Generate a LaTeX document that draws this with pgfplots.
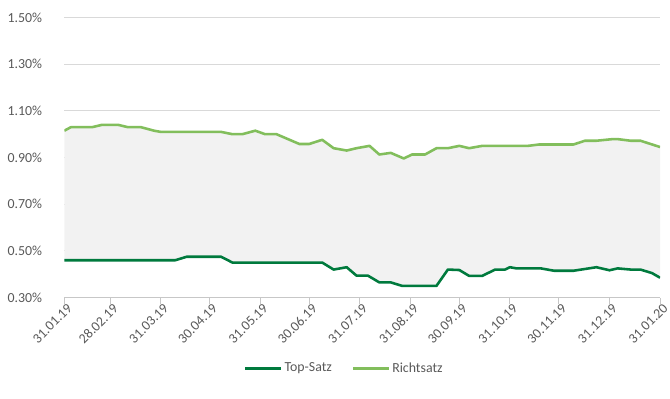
\documentclass[border=0pt]{standalone}
\usepackage{pgfplots}
\pgfplotsset{compat=1.18}
\usepgfplotslibrary{fillbetween}
\usepackage{fontspec}
\setmainfont{Carlito}
\definecolor{topgreen}{RGB}{0,122,61}
\definecolor{richtgreen}{RGB}{130,190,92}
\definecolor{fillgray}{RGB}{242,242,242}
\definecolor{gridgray}{RGB}{217,217,217}
\definecolor{txtgray}{RGB}{89,89,89}
\begin{document}
\begin{tikzpicture}
\path (0,0) rectangle (670pt,403pt);
\begin{axis}[
  at={(65pt,102.3pt)}, anchor=south west,
  scale only axis, width=602pt, height=283pt,
  set layers,
  xmin=0, xmax=365, ymin=0.3, ymax=1.5,
  xtick={0,28,59,89,120,150,181,212,242,273,303,334,365},
  xticklabels={31.01.19,28.02.19,31.03.19,30.04.19,31.05.19,30.06.19,31.07.19,31.08.19,30.09.19,31.10.19,30.11.19,31.12.19,31.01.20},
  xticklabel style={rotate=45, anchor=north east, font=\fontsize{14}{16}\selectfont, text=txtgray, inner sep=1pt, xshift=3pt},
  ytick={0.3,0.5,0.7,0.9,1.1,1.3,1.5},
  yticklabels={0.30\%,0.50\%,0.70\%,0.90\%,1.10\%,1.30\%,1.50\%},
  yticklabel style={font=\fontsize{14}{16}\selectfont, text=txtgray, xshift=-13pt},
  axis lines*=left,
  x axis line style={draw=gridgray!80!gray, line width=1pt, -},
  y axis line style={draw=none},
  xtick style={draw=gridgray!80!gray, line width=1pt},
  ytick style={draw=none},
  tick align=outside, major tick length=6pt,
  ymajorgrids, grid style={draw=gridgray, line width=1.2pt},
  legend style={at={(0.47,-0.252)}, anchor=center, draw=none, fill=none,
    legend columns=2, font=\fontsize{14}{16}\selectfont, text=txtgray,
    /tikz/every even column/.append style={column sep=18pt}},
  legend image code/.code={\draw[#1, line width=3pt] (0pt,0pt) -- (36pt,0pt);},
]
\addplot[name path=top, topgreen, line width=2.6pt, line join=round] coordinates {
(0,0.46) (68,0.46) (75,0.475) (96,0.475) (103,0.45) (158,0.45) (165,0.42)
(173,0.43) (179,0.394) (186,0.394) (193,0.365) (200,0.365) (207,0.35)
(228,0.35) (235,0.42) (242,0.418) (248,0.393) (256,0.393) (264,0.42)
(270,0.42) (273,0.43) (277,0.425) (292,0.425) (300,0.415) (312,0.415)
(326,0.43) (334,0.417) (339,0.425) (347,0.42) (353,0.42) (360,0.405) (365,0.385)
};
\addlegendentry{Top-Satz}
\addplot[name path=richt, richtgreen, line width=2.6pt, line join=round] coordinates {
(0,1.015) (4,1.03) (17,1.03) (23,1.04) (33,1.04) (39,1.03) (47,1.03)
(55,1.015) (59,1.01) (96,1.01) (103,1.00) (109,1.00) (117,1.015) (123,1.00)
(130,1.00) (144,0.958) (150,0.958) (158,0.976) (165,0.94) (173,0.93)
(179,0.94) (187,0.95) (193,0.913) (200,0.92) (208,0.896) (213,0.913)
(221,0.913) (228,0.94) (235,0.94) (242,0.95) (248,0.94) (256,0.95)
(284,0.95) (291,0.956) (312,0.956) (319,0.972) (326,0.972) (336,0.979)
(339,0.979) (347,0.972) (353,0.972) (365,0.945)
};
\addlegendentry{Richtsatz}
\addplot[fillgray, forget plot, on layer=axis background] fill between[of=top and richt];
\end{axis}
\end{tikzpicture}
\end{document}
